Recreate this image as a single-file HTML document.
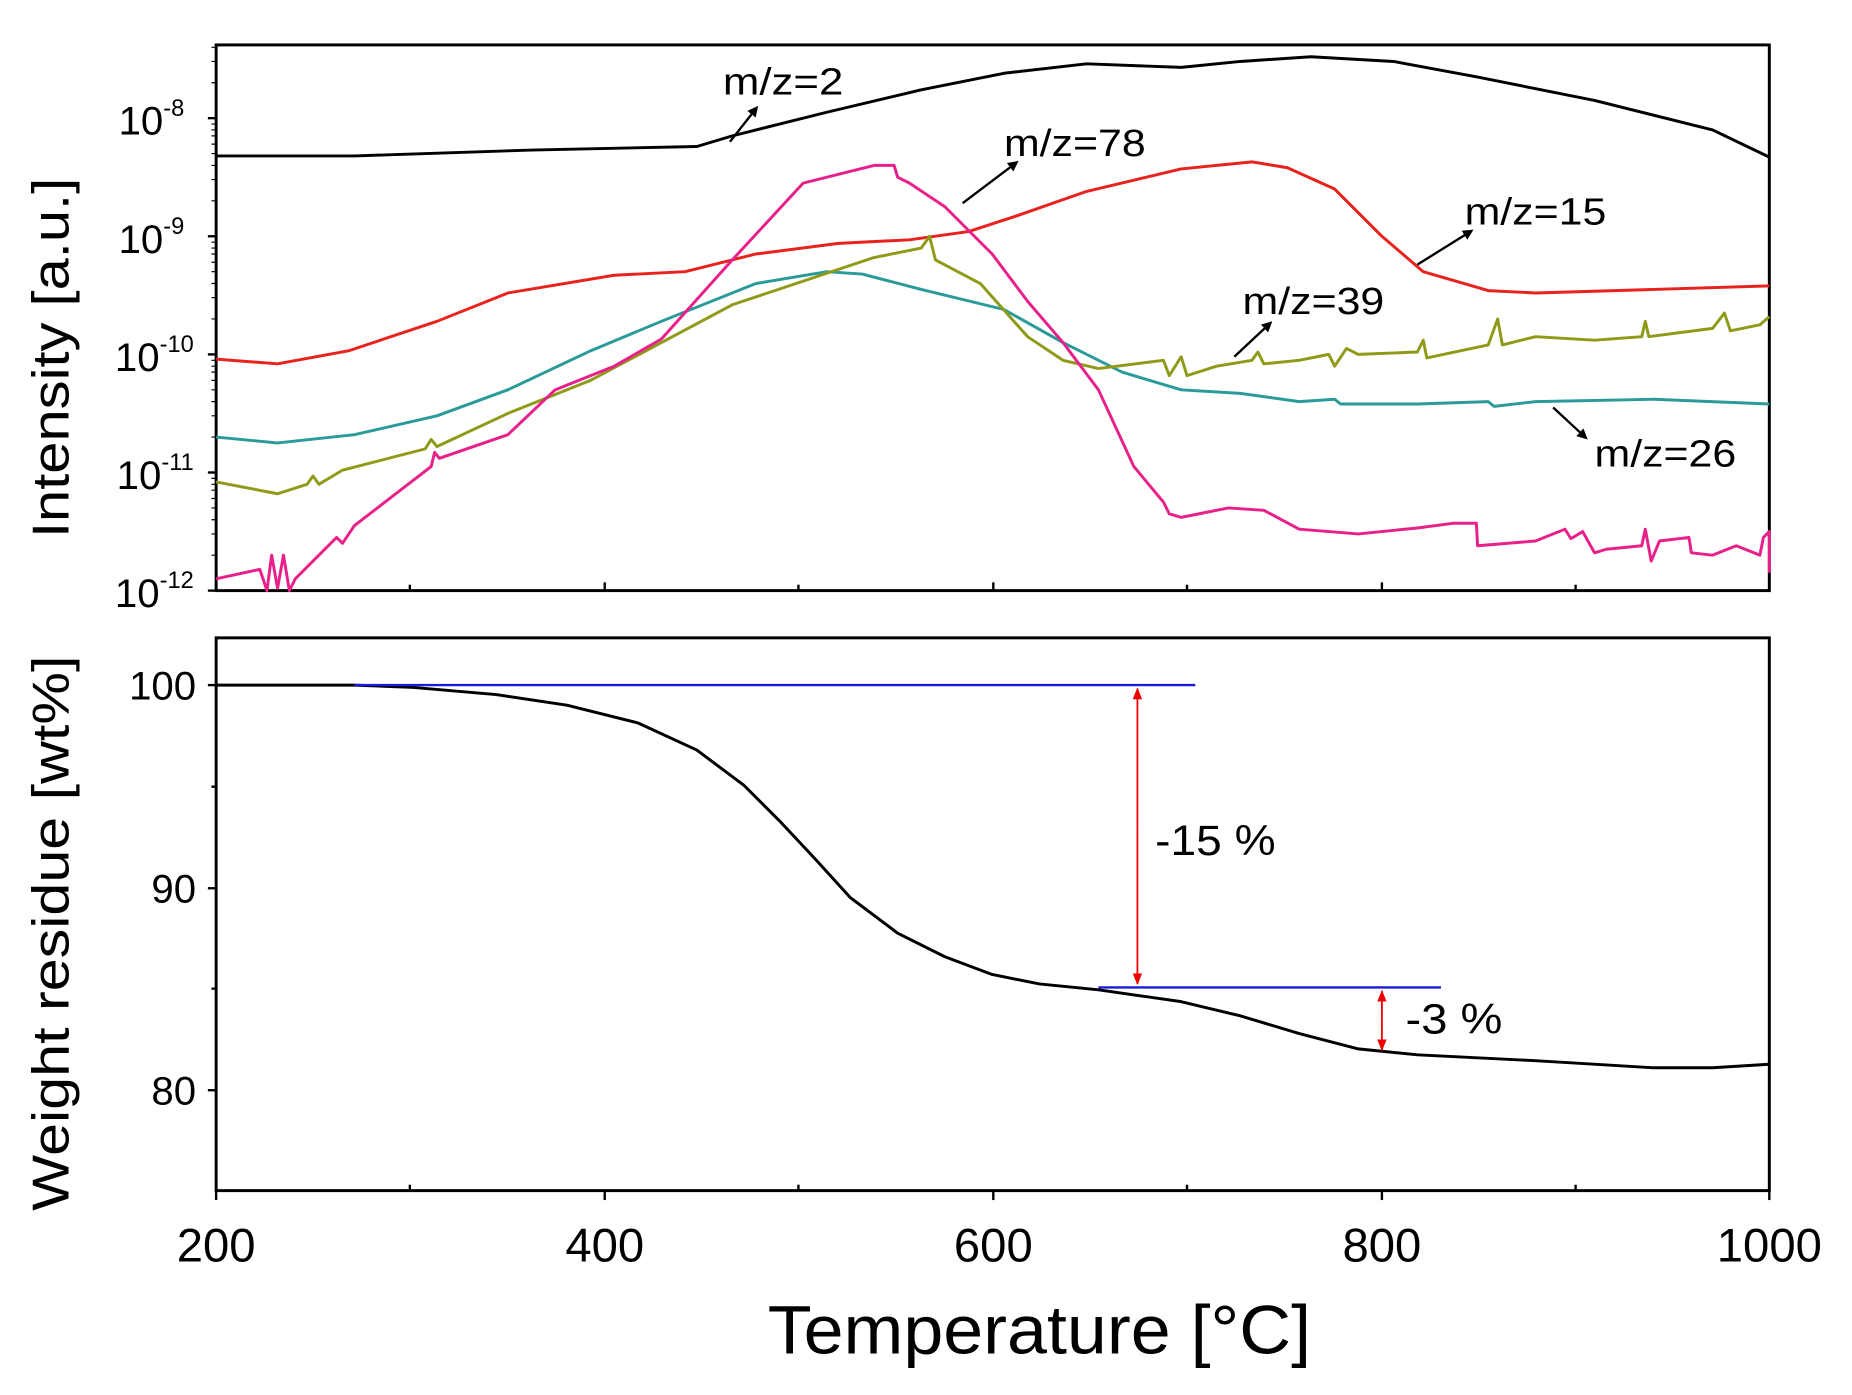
<!DOCTYPE html>
<html><head><style>html,body{margin:0;padding:0;background:#fff}svg{display:block}</style></head>
<body>
<svg width="1852" height="1395" viewBox="0 0 1568 1181" xmlns="http://www.w3.org/2000/svg" font-family="Liberation Sans, Arial, sans-serif">
<rect width="1568" height="1181" fill="#fff"/>
<defs>
<marker id="ah" markerWidth="9" markerHeight="9" refX="6" refY="4.5" orient="auto" markerUnits="userSpaceOnUse"><path d="M0,0 L9,4.5 L0,9 z" fill="#000"/></marker>
<marker id="rh" markerWidth="10" markerHeight="10" refX="9" refY="5" orient="auto" markerUnits="userSpaceOnUse"><path d="M0,1 L10,5 L0,9 z" fill="#e00"/></marker>
</defs>
<rect x="183" y="38" width="1315" height="462" fill="none" stroke="#000" stroke-width="2.5"/>
<rect x="183" y="540" width="1315" height="468" fill="none" stroke="#000" stroke-width="2.5"/>
<g stroke="#000" stroke-width="2">
<line x1="176" y1="100" x2="183" y2="100"/><line x1="176" y1="200" x2="183" y2="200"/><line x1="176" y1="300" x2="183" y2="300"/><line x1="176" y1="400" x2="183" y2="400"/><line x1="176" y1="500" x2="183" y2="500"/>
</g>
<g stroke="#000" stroke-width="1">
<path d="M179,70h4M179,52h4M179,40h4M179,170h4M179,152h4M179,140h4M179,130h4M179,122h4M179,115h4M179,110h4M179,105h4M179,270h4M179,252h4M179,240h4M179,230h4M179,222h4M179,215h4M179,210h4M179,205h4M179,370h4M179,352h4M179,340h4M179,330h4M179,322h4M179,315h4M179,310h4M179,305h4M179,470h4M179,452h4M179,440h4M179,430h4M179,422h4M179,415h4M179,410h4M179,405h4"/>
</g>
<g stroke="#000" stroke-width="2">
<line x1="176" y1="580" x2="183" y2="580"/><line x1="176" y1="752" x2="183" y2="752"/><line x1="176" y1="923" x2="183" y2="923"/>
<line x1="179" y1="666" x2="183" y2="666"/><line x1="179" y1="837" x2="183" y2="837"/>
<line x1="183" y1="1008" x2="183" y2="1016"/><line x1="512" y1="1008" x2="512" y2="1016"/><line x1="841" y1="1008" x2="841" y2="1016"/><line x1="1170" y1="1008" x2="1170" y2="1016"/><line x1="1498" y1="1008" x2="1498" y2="1016"/>
<line x1="347" y1="1008" x2="347" y2="1003"/><line x1="676" y1="1008" x2="676" y2="1003"/><line x1="1005" y1="1008" x2="1005" y2="1003"/><line x1="1334" y1="1008" x2="1334" y2="1003"/>
<line x1="347" y1="500" x2="347" y2="495"/><line x1="512" y1="500" x2="512" y2="493"/><line x1="676" y1="500" x2="676" y2="495"/><line x1="841" y1="500" x2="841" y2="493"/><line x1="1005" y1="500" x2="1005" y2="495"/><line x1="1170" y1="500" x2="1170" y2="493"/><line x1="1334" y1="500" x2="1334" y2="495"/>
</g>
<g font-size="34" text-anchor="end" fill="#000">
<text x="156" y="114">10<tspan font-size="20" dy="-16">-8</tspan></text>
<text x="156" y="214">10<tspan font-size="20" dy="-16">-9</tspan></text>
<text x="164" y="314">10<tspan font-size="20" dy="-16">-10</tspan></text>
<text x="164" y="414">10<tspan font-size="20" dy="-16">-11</tspan></text>
<text x="164" y="514">10<tspan font-size="20" dy="-16">-12</tspan></text>
</g>
<g font-size="34" text-anchor="end" fill="#000">
<text x="166" y="592">100</text><text x="166" y="764">90</text><text x="166" y="935">80</text>
</g>
<g font-size="40" text-anchor="middle" fill="#000">
<text x="183" y="1068">200</text><text x="512" y="1068">400</text><text x="841" y="1068">600</text><text x="1170" y="1068">800</text><text x="1498" y="1068">1000</text>
</g>
<text x="880" y="1146" font-size="58" text-anchor="middle" textLength="460" lengthAdjust="spacingAndGlyphs">Temperature [°C]</text>
<text transform="translate(58,303) rotate(-90)" font-size="44" text-anchor="middle" textLength="305" lengthAdjust="spacingAndGlyphs">Intensity [a.u.]</text>
<text transform="translate(58,790) rotate(-90)" font-size="44" text-anchor="middle" textLength="470" lengthAdjust="spacingAndGlyphs">Weight residue [wt%]</text>
<g fill="none" stroke-width="2.5" stroke-linejoin="round">
<polyline stroke="#000" points="183,132 300,132 450,127 590,124 620,115 700,95 780,76 850,62 920,54 1000,57 1050,52 1110,48 1180,52 1250,65 1350,85 1450,110 1498,133"/>
<polyline stroke="#e8221c" points="183,304 235,308 295,297 370,272 430,248 520,233 580,230 640,215 710,206 770,203 820,196 860,183 920,162 1000,143 1060,137 1090,142 1130,160 1170,200 1205,230 1260,246 1300,248 1400,245 1498,242"/>
<polyline stroke="#2a9a9a" points="183,370 235,375 300,368 370,352 430,330 500,297 560,272 640,240 700,230 730,232 780,245 850,262 900,290 950,315 1000,330 1050,333 1100,340 1130,338 1135,342 1200,342 1260,340 1265,344 1300,340 1400,338 1498,342"/>
<polyline stroke="#8f9a18" points="183,408 235,418 260,410 265,403 270,410 290,398 360,380 365,372 370,378 430,350 500,322 560,290 620,258 680,238 740,218 780,210 787,200 792,220 830,240 870,285 900,305 930,312 985,305 990,318 1000,302 1005,318 1030,310 1060,305 1065,298 1070,308 1100,305 1125,300 1130,310 1140,295 1150,300 1200,298 1205,288 1208,303 1260,292 1268,270 1272,292 1300,285 1350,288 1390,285 1393,272 1396,285 1450,278 1460,265 1465,280 1490,275 1498,268"/>
<polyline stroke="#e8208a" points="183,490 220,482 226,500 230,470 235,498 240,470 245,500 250,490 285,455 290,460 300,445 365,395 368,383 372,388 430,368 470,330 520,310 560,287 620,220 680,155 720,145 740,140 757,140 760,150 770,155 800,175 840,215 870,255 900,290 930,330 960,395 985,425 990,435 1000,438 1040,430 1070,432 1100,448 1150,452 1200,447 1230,443 1250,443 1251,462 1300,458 1325,448 1330,456 1340,450 1350,468 1360,465 1390,462 1393,448 1398,475 1405,458 1430,455 1432,468 1450,470 1470,462 1490,470 1493,455 1498,450 1498,485"/>
<polyline stroke="#000" points="183,580 300,580 350,582 420,588 480,597 540,612 590,635 630,665 660,695 690,727 720,760 760,790 800,810 840,825 880,833 930,838 1000,848 1050,860 1100,875 1150,888 1200,893 1300,898 1400,904 1450,904 1498,901"/>
</g>
<g stroke="#1a1ad8" stroke-width="2"><line x1="300" y1="580" x2="1012" y2="580"/><line x1="930" y1="836" x2="1220" y2="836"/></g>
<g stroke="#e00" stroke-width="1.5">
<line x1="963" y1="700" x2="963" y2="583" marker-end="url(#rh)"/><line x1="963" y1="700" x2="963" y2="833" marker-end="url(#rh)"/>
<line x1="1170" y1="862" x2="1170" y2="839" marker-end="url(#rh)"/><line x1="1170" y1="862" x2="1170" y2="889" marker-end="url(#rh)"/>
</g>
<text x="978" y="724" font-size="36" textLength="102" lengthAdjust="spacingAndGlyphs">-15 %</text>
<text x="1190" y="875" font-size="36" textLength="82" lengthAdjust="spacingAndGlyphs">-3 %</text>
<g font-size="32" fill="#000">
<text x="612" y="80" textLength="102" lengthAdjust="spacingAndGlyphs">m/z=2</text>
<text x="850" y="132" textLength="120" lengthAdjust="spacingAndGlyphs">m/z=78</text>
<text x="1240" y="190" textLength="120" lengthAdjust="spacingAndGlyphs">m/z=15</text>
<text x="1052" y="266" textLength="120" lengthAdjust="spacingAndGlyphs">m/z=39</text>
<text x="1350" y="395" textLength="120" lengthAdjust="spacingAndGlyphs">m/z=26</text>
</g>
<g stroke="#000" stroke-width="2">
<line x1="618" y1="120" x2="640" y2="92" marker-end="url(#ah)"/>
<line x1="815" y1="172" x2="860" y2="138" marker-end="url(#ah)"/>
<line x1="1200" y1="224" x2="1245" y2="196" marker-end="url(#ah)"/>
<line x1="1045" y1="302" x2="1075" y2="274" marker-end="url(#ah)"/>
<line x1="1315" y1="345" x2="1342" y2="370" marker-end="url(#ah)"/>
</g>
</svg>
</body></html>
